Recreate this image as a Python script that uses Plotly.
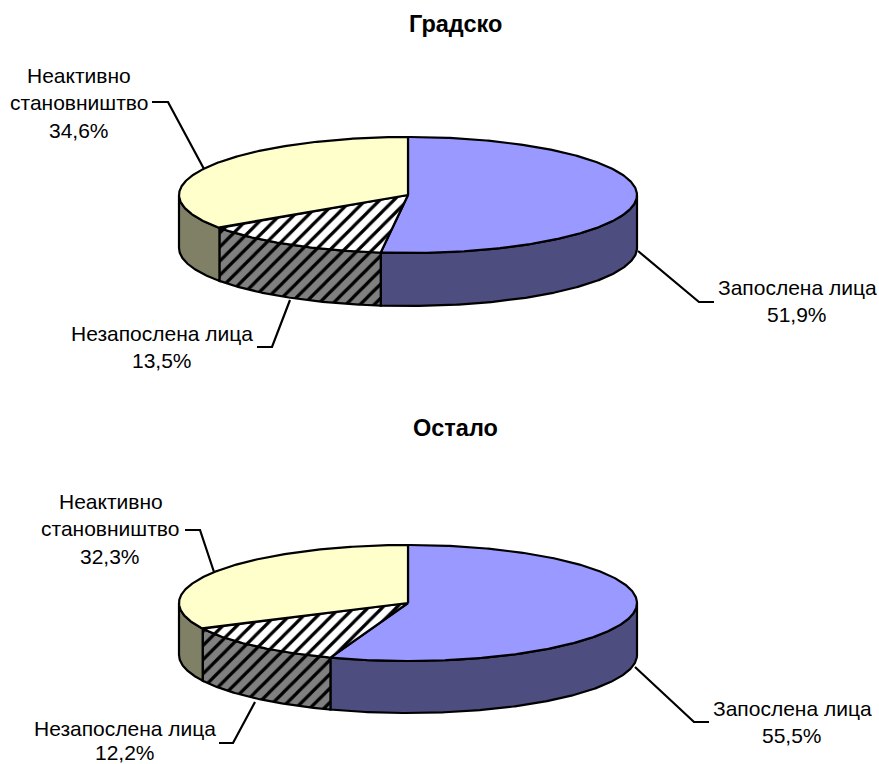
import numpy as np
import plotly.graph_objects as go

titles = ["Градско", "Остало"]
categories = ["Запослена лица", "Незапослена лица", "Неактивно становништво"]
urban_values = [51.9, 13.5, 34.6]
other_values = [55.5, 12.2, 32.3]

W, H = 879, 764
FONT = "Liberation Sans, Arial, sans-serif"
TOP = ["#9999FF", "#FFFFFF", "#FFFFCC"]
SIDE = ["#4D4D80", "#808080", "#808066"]
HATCH = [False, True, False]
LW = 2.2


def arc(cx, cy, rx, ry, a1, a2):
    t = np.radians(np.linspace(a1, a2, max(2, int(abs(a2 - a1) * 2) + 1)))
    return cx + rx * np.sin(t), cy - ry * np.cos(t)


def add_pie(fig, values, cx, cy, rx, ry, depth):
    edges = np.concatenate([[0], np.cumsum(values) / np.sum(values) * 360])
    for i in range(len(values)):
        a1, a2 = edges[i], edges[i + 1]
        pat = dict(shape="/", size=10, solidity=0.32, fgcolor="#000000",
                   fgopacity=1, fillmode="replace")
        # visible rim: front half of the ellipse only
        s1, s2 = max(a1, 90), min(a2, 270)
        if s2 > s1:
            x, y = arc(cx, cy, rx, ry, s1, s2)
            px = np.concatenate([x, x[::-1], x[:1]])
            py = np.concatenate([y, y[::-1] + depth, y[:1]])
            kw = dict(fillpattern=dict(bgcolor=SIDE[i], **pat)) if HATCH[i] else {}
            fig.add_trace(go.Scatter(x=px, y=py, mode="lines", fill="toself",
                                     fillcolor=SIDE[i], line=dict(color="black", width=LW),
                                     hoverinfo="skip", showlegend=False, **kw))
        x, y = arc(cx, cy, rx, ry, a1, a2)
        px = np.concatenate([[cx], x, [cx]])
        py = np.concatenate([[cy], y, [cy]])
        kw = dict(fillpattern=dict(bgcolor=TOP[i], **pat)) if HATCH[i] else {}
        fig.add_trace(go.Scatter(x=px, y=py, mode="lines", fill="toself",
                                 fillcolor=TOP[i], line=dict(color="black", width=LW),
                                 hoverinfo="skip", showlegend=False, **kw))


fig = go.Figure()

# leader lines
leaders = [
    ([152, 168, 204], [102, 102, 169]),
    ([638, 699, 714], [251, 302, 302]),
    ([290, 272, 257], [300, 347, 347]),
    ([185, 200, 214], [530, 530, 572]),
    ([635, 694, 709], [667, 722, 722]),
    ([255, 233, 219], [702, 743, 743]),
]
for lx, ly in leaders:
    fig.add_trace(go.Scatter(x=lx, y=ly, mode="lines", line=dict(color="black", width=LW),
                             hoverinfo="skip", showlegend=False))

add_pie(fig, urban_values, 408, 195, 229, 58, 53)
add_pie(fig, other_values, 408, 603, 229, 58, 52)


def pct(v):
    return f"{v:.1f}%".replace(".", ",")


labels = [
    (titles[0], 455, 24, True),
    (titles[1], 455, 428, True),
    ("Неактивно", 79, 75, False),
    ("становништво", 79, 102, False),
    (pct(urban_values[2]), 79, 130, False),
    (categories[0], 797, 287, False),
    (pct(urban_values[0]), 797, 314, False),
    (categories[1], 162, 333, False),
    (pct(urban_values[1]), 162, 360, False),
    ("Неактивно", 111, 501, False),
    ("становништво", 110, 528, False),
    (pct(other_values[2]), 110, 556, False),
    (categories[0], 792, 708, False),
    (pct(other_values[0]), 792, 735, False),
    (categories[1], 125, 728, False),
    (pct(other_values[1]), 125, 752, False),
]
annotations = [
    dict(x=x, y=y, text=f"<b>{t}</b>" if b else t, showarrow=False,
         xanchor="center", yanchor="middle",
         font=dict(family=FONT, size=23.5 if b else 21, color="black"))
    for t, x, y, b in labels
]

fig.update_layout(
    width=W, height=H, margin=dict(l=0, r=0, t=0, b=0),
    paper_bgcolor="white", plot_bgcolor="white", showlegend=False,
    xaxis=dict(range=[0, W], visible=False, fixedrange=True),
    yaxis=dict(range=[H, 0], visible=False, fixedrange=True),
    annotations=annotations, hovermode=False,
)
fig.write_html("out.html", config=dict(displayModeBar=False),
               post_script="document.body.style.margin='0';document.body.style.overflow='hidden';")
